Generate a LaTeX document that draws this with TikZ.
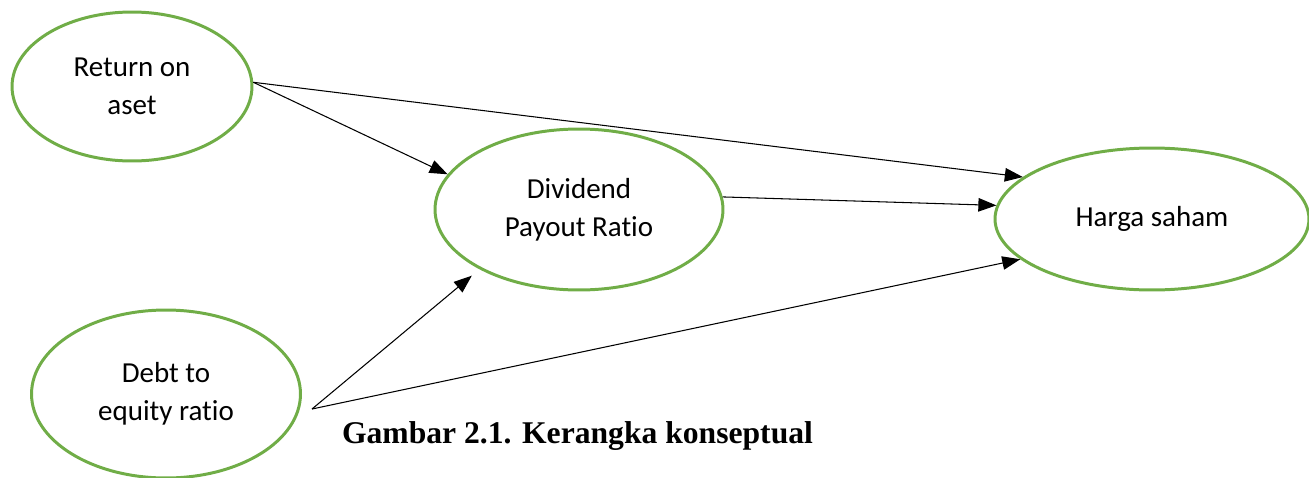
\documentclass[tikz,border=0pt]{standalone}
\usepackage{fontspec}
\setmainfont{Carlito}[Ligatures=NoCommon]
\newfontfamily\captionfont{Liberation Serif}
\usepackage{xcolor}
\definecolor{ovalgreen}{RGB}{112,173,71}
\usetikzlibrary{shapes.geometric, arrows.meta}
\tikzset{>={Triangle[length=0.36cm, width=0.27cm]}}
\tikzset{
  variabel/.style={ellipse, draw=ovalgreen, line width=1.7pt, inner sep=0pt,
    align=center, font=\fontsize{16.5}{21.5}\selectfont},
  panah/.style={->, line width=0.6pt, black}
}

\begin{document}
\begin{tikzpicture}[x=0.02cm, y=-0.02cm]
\useasboundingbox (0,0) rectangle (1309,477);
% variabel
\node[variabel, minimum width=4.8cm, minimum height=2.98cm] (roa) at (132,86.5) {Return on\\aset};
\node[variabel, minimum width=5.76cm, minimum height=3.22cm] (dpr) at (579,209.5) {Dividend\\Payout Ratio};
\node[variabel, minimum width=6.28cm, minimum height=2.84cm] (harga) at (1152,219) {Harga saham};
\node[variabel, minimum width=5.38cm, minimum height=3.36cm] (der) at (166,394) {Debt to\\equity ratio};
\coordinate (derout) at (312,409);
% panah
\draw[panah] (roa.2) -- (dpr.165);
\draw[panah] (roa.2) -- (harga.162);
\draw[panah] (dpr.5) -- (harga.175);
\draw[panah, shorten >=0.2cm] (derout) -- (dpr.211);
\draw[panah] (derout) -- (harga.197.6);
% judul
\node[anchor=base, font=\captionfont\bfseries\fontsize{18}{20}\selectfont] (judul) at (577.5,443) {Gambar 2.1. Kerangka konseptual};
\end{tikzpicture}
\end{document}
